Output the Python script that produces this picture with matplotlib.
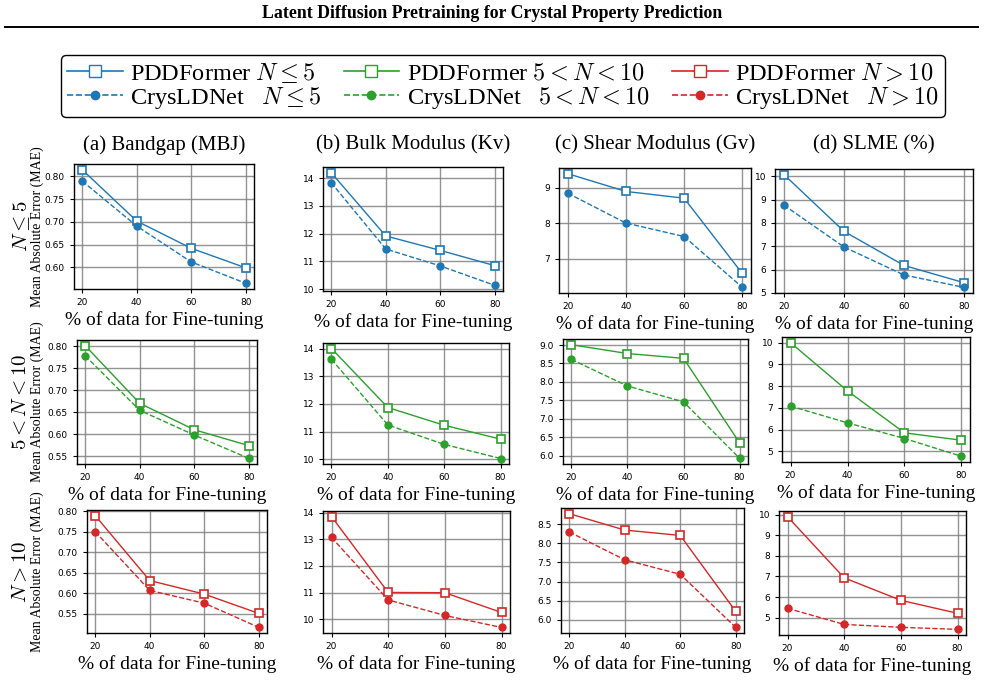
import numpy as np
import matplotlib.pyplot as plt
from matplotlib.lines import Line2D
from matplotlib.ticker import MultipleLocator

plt.rcParams['font.family'] = ['Liberation Serif', 'DejaVu Serif']
plt.rcParams['mathtext.fontset'] = 'cm'

# data
pct = [20, 40, 60, 80]
props = ['(a) Bandgap (MBJ)', '(b) Bulk Modulus (Kv)', '(c) Shear Modulus (Gv)', '(d) SLME (%)']
groups = [r'$N \leq 5$', r'$5 < N < 10$', r'$N > 10$']
colors = ['#1f77b4', '#2ca02c', '#d62728']

# PDDFormer, rows = groups, cols = properties
pdd_small = [[0.815, 0.702, 0.642, 0.599], [14.20, 11.92, 11.40, 10.85],
             [9.40, 8.90, 8.71, 6.59], [10.07, 7.64, 6.18, 5.44]]
pdd_mid = [[0.801, 0.670, 0.610, 0.574], [14.00, 11.87, 11.23, 10.73],
           [9.01, 8.77, 8.64, 6.35], [10.00, 7.78, 5.85, 5.51]]
pdd_large = [[0.789, 0.631, 0.598, 0.551], [13.85, 11.01, 11.00, 10.26],
             [8.78, 8.35, 8.21, 6.22], [9.90, 6.93, 5.84, 5.21]]

# CrysLDNet
crys_small = [[0.790, 0.691, 0.612, 0.565], [13.84, 11.45, 10.84, 10.14],
              [8.85, 8.01, 7.63, 6.20], [8.76, 6.97, 5.77, 5.24]]
crys_mid = [[0.778, 0.654, 0.598, 0.545], [13.61, 11.24, 10.54, 10.03],
            [8.61, 7.89, 7.46, 5.93], [7.08, 6.31, 5.59, 4.77]]
crys_large = [[0.750, 0.607, 0.576, 0.517], [13.07, 10.73, 10.15, 9.70],
              [8.30, 7.57, 7.19, 5.80], [5.45, 4.67, 4.53, 4.43]]

pdd_all = [pdd_small, pdd_mid, pdd_large]
crys_all = [crys_small, crys_mid, crys_large]

# y tick step per panel
ysteps = [[0.05, 1, 1, 1], [0.05, 1, 0.5, 1], [0.05, 1, 0.5, 1]]

W, H = 985, 697
fig = plt.figure(figsize=(W / 100, H / 100), dpi=100)

# axes boxes in pixels (left, top, right, bottom)
boxes = [
    [(74, 164, 254, 289), (323, 167, 503, 291), (559, 168, 751, 293), (775, 169, 973, 293)],
    [(77, 340, 257, 464), (323, 343, 509, 464), (563, 339, 748, 464), (782, 337, 970, 462)],
    [(87, 510, 267, 633), (323, 511, 510, 633), (561, 508, 744, 633), (779, 511, 966, 635)],
]

def px_axes(l, t, r, b):
    return fig.add_axes([l / W, 1 - b / H, (r - l) / W, (b - t) / H])

for i in range(3):
    for j in range(4):
        ax = px_axes(*boxes[i][j])
        c = colors[i]
        ax.plot(pct, pdd_all[i][j], '-s', color=c, lw=1.0, ms=5.5,
                markerfacecolor='white', markeredgewidth=1.2)
        ax.plot(pct, crys_all[i][j], '--o', color=c, lw=1.0, ms=5)
        ax.set_xticks(pct)
        ax.yaxis.set_major_locator(MultipleLocator(ysteps[i][j]))
        ax.grid(True, color='#808080', lw=1.0, alpha=0.85)
        ax.tick_params(labelsize=6.5, labelfontfamily='DejaVu Sans', length=3)
        for s in ax.spines.values():
            s.set_linewidth(1.0)
        ax.set_xlabel('% of data for Fine-tuning', fontsize=14, labelpad=3)
        l, t, r, b = boxes[i][j]
        if i == 0:
            fig.text((l + r) / 2 / W, 1 - 145 / H, props[j], fontsize=15,
                     ha='center', va='center')
        if j == 0:
            yc = 1 - (t + b) / 2 / H
            fig.text(22 / W, yc, groups[i], fontsize=15, rotation=90,
                     ha='center', va='center')
            fig.text(37 / W, yc, 'Mean Absolute Error (MAE)', fontsize=10,
                     rotation=90, ha='center', va='center')

# legend
handles = []
labels = []
for i in range(3):
    handles.append(Line2D([], [], color=colors[i], ls='-', marker='s', ms=9,
                          markerfacecolor='white', lw=1.2))
    labels.append('PDDFormer ' + groups[i])
    handles.append(Line2D([], [], color=colors[i], ls='--', marker='o', ms=6, lw=1.2))
    labels.append('CrysLDNet   ' + groups[i])
fig.legend(handles, labels, ncol=3, loc='center',
           bbox_to_anchor=(503 / W, 1 - 86 / H), fontsize=17.5,
           frameon=True, fancybox=True, edgecolor='black', framealpha=1,
           handlelength=2.3, handletextpad=0.3, columnspacing=0.9,
           labelspacing=0.0, borderpad=0.25)

# page header
fig.text(0.5, 1 - 13 / H, 'Latent Diffusion Pretraining for Crystal Property Prediction',
         fontsize=12.8, fontweight='bold', ha='center', va='center')
fig.add_artist(Line2D([5 / W, 978 / W], [1 - 27 / H, 1 - 27 / H], color='black', lw=1.4))

fig.savefig('out.png', dpi=100)
